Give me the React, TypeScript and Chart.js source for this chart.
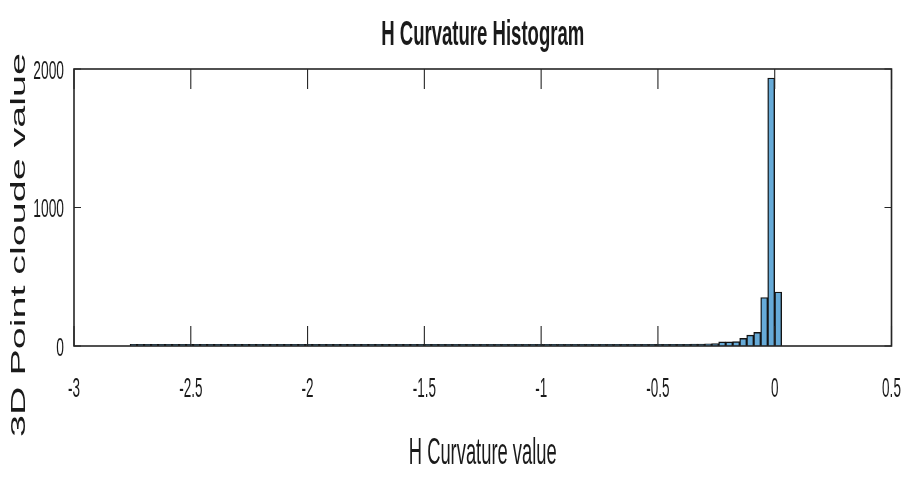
import React, { useEffect, useRef } from "react";
import { Chart, registerables } from "chart.js";
Chart.register(...registerables);

const TITLE = "H Curvature Histogram";
const X_LABEL = "H Curvature value";
const Y_LABEL = "3D Point cloude value";

const BIN_START = -2.76;
const BIN_WIDTH = 0.03;
const COUNTS = [
  2, 1, 1, 2, 1, 1, 1, 2, 1, 1,
  2, 1, 1, 1, 2, 1, 1, 2, 1, 1,
  1, 2, 1, 1, 2, 1, 2, 1, 1, 2,
  1, 2, 2, 1, 2, 1, 2, 2, 1, 2,
  2, 1, 2, 2, 3, 2, 2, 3, 2, 2,
  3, 2, 3, 3, 2, 3, 3, 4, 3, 3,
  4, 3, 4, 4, 5, 4, 5, 5, 6, 5,
  6, 7, 6, 7, 8, 8, 9, 10, 11, 12,
  13, 14, 16, 18,
  30, 30, 32, 55, 78, 98, 350, 1935, 390,
];

const X_TICKS = [-3, -2.5, -2, -1.5, -1, -0.5, 0, 0.5];
const X_TICK_LABELS = ["-3", "-2.5", "-2", "-1.5", "-1", "-0.5", "0", "0.5"];
const Y_TICKS = [0, 1000, 2000];
const Y_TICK_LABELS = ["0", "1000", "2000"];

const TEXT = "#1a1a1a";
const FONT = "'Liberation Sans', Arial, Helvetica, sans-serif";

function squished(ctx: CanvasRenderingContext2D, text: string, x: number, y: number, font: string, align: CanvasTextAlign, sx: number) {
  ctx.save();
  ctx.translate(x, y);
  ctx.scale(sx, 1);
  ctx.font = font;
  ctx.textAlign = align;
  ctx.textBaseline = "alphabetic";
  ctx.fillStyle = TEXT;
  ctx.fillText(text, 0, 0);
  ctx.restore();
}

const decor = {
  id: "decor",
  afterDraw(chart: any) {
    const ctx: CanvasRenderingContext2D = chart.ctx;
    const a = chart.chartArea;
    const xs = chart.scales.x;
    const ys = chart.scales.y;
    ctx.save();
    ctx.strokeStyle = "#262626";
    ctx.lineWidth = 1.6;
    ctx.strokeRect(a.left, a.top, a.right - a.left, a.bottom - a.top);
    ctx.lineWidth = 1.1;
    ctx.beginPath();
    X_TICKS.forEach((v) => {
      const px = xs.getPixelForValue(v);
      ctx.moveTo(px, a.bottom);
      ctx.lineTo(px, a.bottom - 20);
      ctx.moveTo(px, a.top);
      ctx.lineTo(px, a.top + 20);
    });
    Y_TICKS.forEach((v) => {
      const py = ys.getPixelForValue(v);
      ctx.moveTo(a.left, py);
      ctx.lineTo(a.left + 7, py);
      ctx.moveTo(a.right, py);
      ctx.lineTo(a.right - 7, py);
    });
    ctx.stroke();
    ctx.restore();

    X_TICKS.forEach((v, i) => {
      const px = xs.getPixelForValue(v);
      squished(ctx, X_TICK_LABELS[i], px, a.bottom + 51, `27px ${FONT}`, "center", 0.5);
    });
    Y_TICKS.forEach((v, i) => {
      const py = ys.getPixelForValue(v);
      squished(ctx, Y_TICK_LABELS[i], a.left - 10, py + 9.5, `26px ${FONT}`, "right", 0.53);
    });

    const cx = (a.left + a.right) / 2;
    squished(ctx, TITLE, cx, 45, `bold 35px ${FONT}`, "center", 0.53);
    squished(ctx, X_LABEL, cx, 464, `36px ${FONT}`, "center", 0.51);

    ctx.save();
    ctx.font = `40px ${FONT}`;
    const w = ctx.measureText(Y_LABEL).width;
    ctx.translate(25, 245);
    ctx.rotate(-Math.PI / 2);
    ctx.scale(384 / w, 0.5);
    ctx.textAlign = "center";
    ctx.textBaseline = "alphabetic";
    ctx.fillStyle = TEXT;
    ctx.fillText(Y_LABEL, 0, 0);
    ctx.restore();
  },
};

export default function App() {
  const ref = useRef<HTMLCanvasElement | null>(null);
  useEffect(() => {
    if (!ref.current) return;
    const data = COUNTS.map((c, i) => ({ x: BIN_START + (i + 0.5) * BIN_WIDTH, y: c }));
    const chart = new Chart(ref.current, {
      type: "bar",
      data: {
        datasets: [
          {
            data,
            backgroundColor: "#66aad7",
            borderColor: "#141414",
            borderWidth: 1.4,
            borderSkipped: "start",
            barPercentage: 1,
            categoryPercentage: 1,
            grouped: false,
            minBarLength: 1.6,
          } as any,
        ],
      },
      options: {
        responsive: false,
        animation: false,
        layout: { padding: { left: 0, right: 12.5, top: 69, bottom: 0 } },
        plugins: { legend: { display: false }, tooltip: { enabled: false }, title: { display: false } },
        scales: {
          x: {
            type: "linear",
            min: -3,
            max: 0.5,
            offset: false,
            grid: { display: false, offset: false },
            border: { display: false },
            ticks: { display: false, stepSize: 0.5 },
            afterFit: (s: any) => {
              s.height = 131;
            },
          },
          y: {
            min: 0,
            max: 2000,
            grid: { display: false },
            border: { display: false },
            ticks: { display: false, stepSize: 1000 },
            afterFit: (s: any) => {
              s.width = 74;
            },
          },
        },
      },
      plugins: [decor],
    });
    return () => chart.destroy();
  }, []);
  return (
    <div style={{ position: "absolute", left: 0, top: 0, width: 904, height: 477 }}>
      <canvas ref={ref} width={904} height={477} style={{ display: "block" }} />
    </div>
  );
}
